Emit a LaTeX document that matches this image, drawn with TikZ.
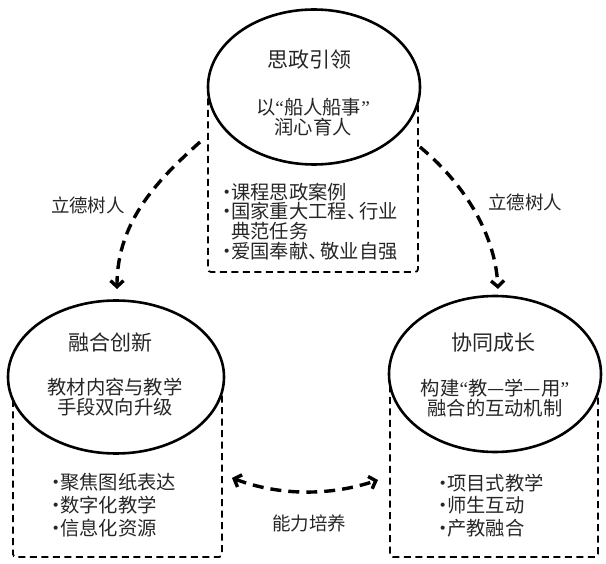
\documentclass[tikz,border=0pt]{standalone}
\usepackage{fontspec}
\setmainfont{Noto Sans CJK SC}
\newfontfamily\latq{Liberation Serif}
\newcommand\bdot{\hbox to 8pt{\hss·\hss}}
\newcommand\dun{\hbox to 12pt{、\hss}}
\newcommand\myoq{{\latq “}}
\newcommand\mycq{{\latq ”}}
\usetikzlibrary{arrows.meta,shapes.geometric}
\begin{document}
\begin{tikzpicture}[x=1pt,y=-1pt,
  oval/.style={ellipse, draw, line width=2.6pt, fill=white, inner sep=0pt},
  dbox/.style={dash pattern=on 7pt off 4.5pt, line width=1.8pt, rounded corners=3pt},
  flowline/.style={dash pattern=on 11pt off 7pt, line width=3.4pt},
  tip/.style={-{Straight Barb[length=6pt,width=13pt]}},
  bitip/.style={{Straight Barb[length=6pt,width=13pt]}-{Straight Barb[length=6pt,width=13pt]}},
  ttl/.style={font=\fontsize{21}{24}\selectfont, text=black!85},
  sub/.style={font=\fontsize{19.3}{20.5}\selectfont, align=center, text=black!85},
  lst/.style={font=\fontsize{19.3}{#1}\selectfont, align=left, anchor=west, inner sep=0pt, text=black!85},
  lbl/.style={font=\fontsize{18.5}{20}\selectfont, text=black!85}
]
\useasboundingbox (0,0) rectangle (606,564);

% dashed boxes
\draw[dbox] (208,87) -- (208,272) -- (418,272) -- (418,87);
\draw[dbox] (13,377) -- (13,557) -- (222,557) -- (222,377);
\draw[dbox] (390,374) -- (390,557) -- (598,557) -- (598,374);

% ellipses
\node[oval, minimum width=212pt, minimum height=155pt] (top) at (314,87) {};
\node[oval, minimum width=216pt, minimum height=153pt] (left) at (116,377) {};
\node[oval, minimum width=212pt, minimum height=156pt] (right) at (495,374) {};

% top texts
\node[ttl] (t1) at (309,60) {思政引领};
\node[sub] (t2) at (313,117) {以\myoq 船人船事\mycq\\润心育人};
\node[lst=19.7pt] (t3) at (223,221.5) {\bdot 课程思政案例\\\bdot 国家重大工程\dun 行业\\\phantom{\bdot}典范任务\\\bdot 爱国奉献\dun 敬业自强};

% left texts
\node[ttl] (l1) at (110,342) {融合创新};
\node[sub] (l2) at (115,397) {教材内容与教学\\手段双向升级};
\node[lst=23pt] (l3) at (52,505) {\bdot 聚焦图纸表达\\\bdot 数字化教学\\\bdot 信息化资源};

% right texts
\node[ttl] (r1) at (493,343) {协同成长};
\node[sub] (r2) at (495,398) {构建\myoq 教—学—用\mycq\\融合的互动机制};
\node[lst=22.5pt] (r3) at (439,505.5) {\bdot 项目式教学\\\bdot 师生互动\\\bdot 产教融合};

% labels
\node[lbl] (a1) at (88,205) {立德树人};
\node[lbl] (a2) at (525,202) {立德树人};
\node[lbl] (a3) at (309,523) {能力培养};

% arrows
\coordinate (s1) at (200,142);
\coordinate (e1) at (117,289);
\coordinate (s2) at (420,147);
\coordinate (e2) at (498,289);
\coordinate (s3) at (232,478);
\coordinate (e3) at (378,480);
\draw[flowline, tip] (s1) .. controls (160,178) and (117,220) .. (e1);
\draw[flowline, tip] (s2) .. controls (460,180) and (495,230) .. (e2);
\draw[flowline, bitip] (s3) .. controls (280,496) and (330,496) .. (e3);
\end{tikzpicture}
\end{document}
